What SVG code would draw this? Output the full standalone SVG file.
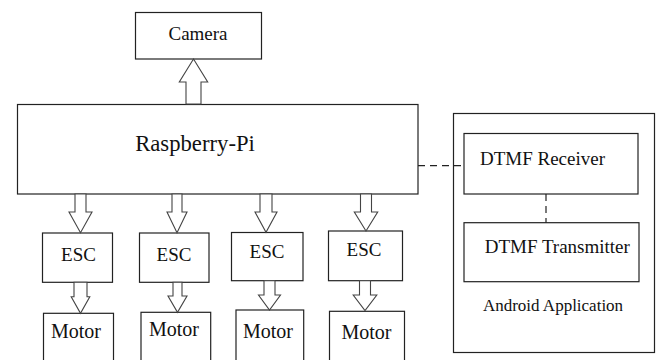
<svg xmlns="http://www.w3.org/2000/svg" width="659" height="360" viewBox="0 0 659 360">
<style>
.box{fill:#fff;stroke:#222;stroke-width:1.2}
.arr{fill:#fff;stroke:#444;stroke-width:1.1;stroke-linejoin:miter}
.dash{fill:none;stroke:#222;stroke-width:1.2;stroke-dasharray:7,5}
text{font-family:"Liberation Serif","Times New Roman",serif;fill:#111}
.t19{font-size:19px}
.t20{font-size:20px}
</style>
<rect width="659" height="360" fill="#fff"/>
<g id="android">
<rect class="box" x="453.5" y="113.5" width="201" height="239"/>
<text x="553" y="311" font-size="17" text-anchor="middle">Android Application</text>
</g>
<g id="camera">
<rect class="box" x="135.5" y="12.5" width="126" height="46.5"/>
<text class="t19" x="198" y="39.5" text-anchor="middle">Camera</text>
</g>
<g id="raspberry-pi">
<rect class="box" x="17.5" y="104.5" width="400.5" height="89.5"/>
<text x="195" y="151" font-size="22.7" text-anchor="middle">Raspberry-Pi</text>
</g>
<g id="esc1"><rect class="box" x="42.5" y="233" width="70" height="49.3"/><text class="t19" x="78.5" y="261" text-anchor="middle">ESC</text></g>
<g id="esc2"><rect class="box" x="139.5" y="233" width="69.5" height="49.3"/><text class="t19" x="174" y="261" text-anchor="middle">ESC</text></g>
<g id="esc3"><rect class="box" x="231.5" y="232.5" width="71.5" height="48.2"/><text class="t19" x="267" y="257.5" text-anchor="middle">ESC</text></g>
<g id="esc4"><rect class="box" x="328.5" y="231" width="74" height="49.7"/><text class="t19" x="364" y="255.5" text-anchor="middle">ESC</text></g>
<g id="motor1"><rect class="box" x="43.5" y="313.3" width="70" height="60"/><text class="t20" x="76" y="338" text-anchor="middle">Motor</text></g>
<g id="motor2"><rect class="box" x="141" y="312.3" width="69.7" height="60"/><text class="t20" x="174" y="336" text-anchor="middle">Motor</text></g>
<g id="motor3"><rect class="box" x="236" y="310" width="67.7" height="60"/><text class="t20" x="268" y="338" text-anchor="middle">Motor</text></g>
<g id="motor4"><rect class="box" x="329.5" y="311.3" width="75" height="60"/><text class="t20" x="366.5" y="339" text-anchor="middle">Motor</text></g>
<g id="dtmf-receiver"><rect class="box" x="464" y="133.5" width="174" height="60.5"/><text class="t19" x="542.5" y="165" text-anchor="middle">DTMF Receiver</text></g>
<g id="dtmf-transmitter"><rect class="box" x="464" y="222.7" width="175" height="59"/><text class="t19" x="557.3" y="253.3" text-anchor="middle">DTMF Transmitter</text></g>
<g id="connectors">
<polygon class="arr" points="186,104 186,82 179.3,82 193.5,59 207.7,82 201,82 201,104"/>
<polygon class="arr" points="75,194 86,194 86,212 92,212 80.5,232.7 69,212 75,212"/>
<polygon class="arr" points="172,194 182,194 182,212 187,212 177,232.7 167,212 172,212"/>
<polygon class="arr" points="260,194 272,194 272,212 277,212 266,232.3 255,212 260,212"/>
<polygon class="arr" points="360.5,194 371.5,194 371.5,212 377.7,212 366,231 354.3,212 360.5,212"/>
<polygon class="arr" points="74,282.3 87,282.3 87,296.7 89.8,296.7 80.5,313.3 71.2,296.7 74,296.7"/>
<polygon class="arr" points="173,282.3 182,282.3 182,296 187,296 177.5,312.3 168,296 173,296"/>
<polygon class="arr" points="264,280.7 275,280.7 275,295 280.5,295 269.5,310 258.5,295 264,295"/>
<polygon class="arr" points="359.5,280.7 370.5,280.7 370.5,295 376.8,295 365,310.7 353.2,295 359.5,295"/>
<line class="dash" x1="418" y1="165.7" x2="464" y2="165.7"/>
<line class="dash" x1="546" y1="194" x2="546" y2="222.7"/>
</g>
</svg>
